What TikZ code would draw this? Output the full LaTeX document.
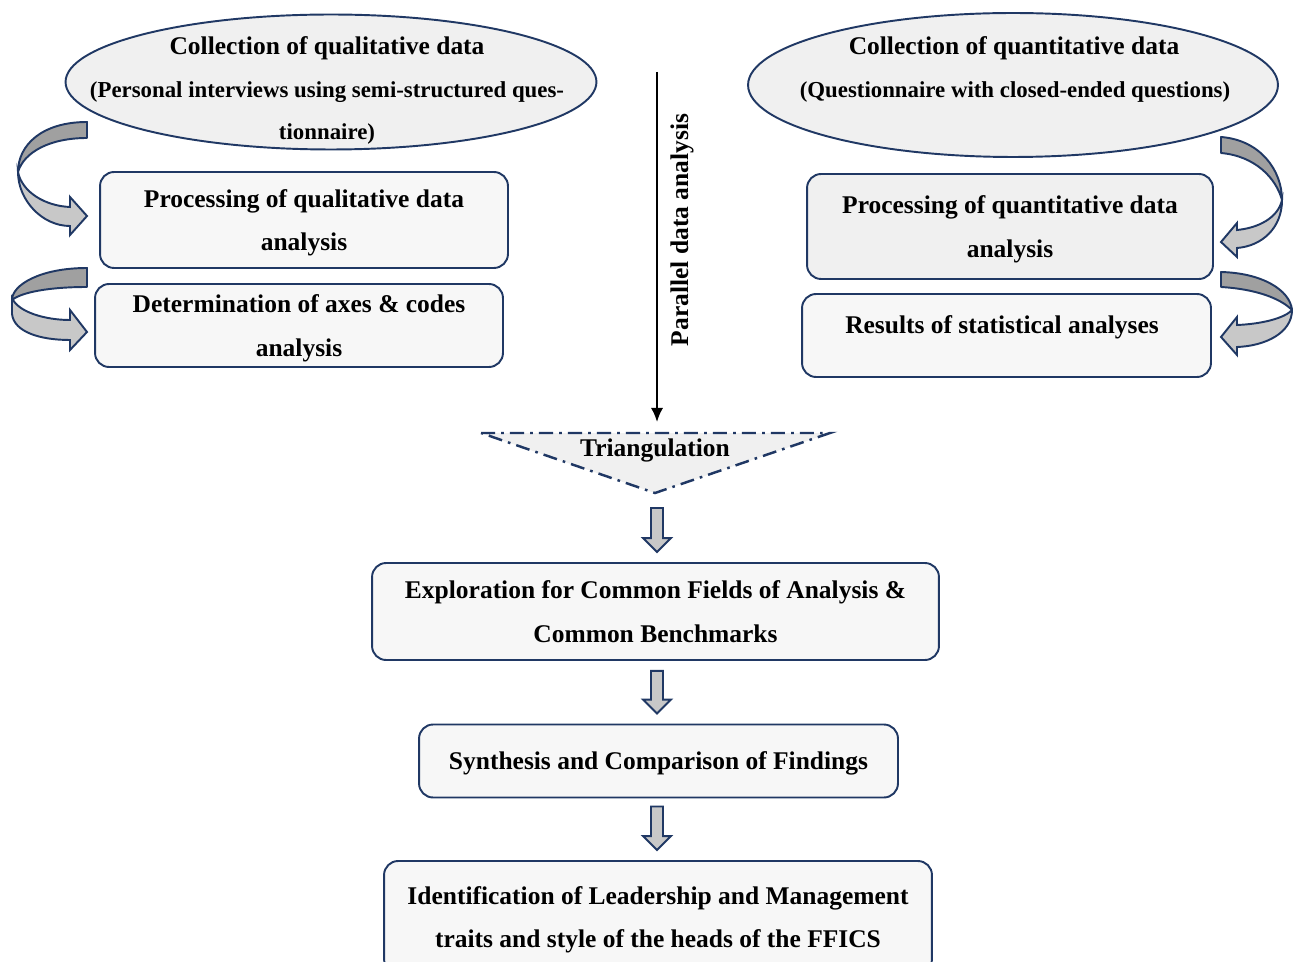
\documentclass[tikz,border=0pt]{standalone}
\usepackage{fontspec}
\setmainfont{Liberation Serif}
\usetikzlibrary{calc,shapes.geometric,arrows.meta}

\definecolor{navy}{RGB}{32,56,100}
\definecolor{ellfill}{RGB}{240,240,240}
\definecolor{boxfill}{RGB}{247,247,247}
\definecolor{bandback}{RGB}{160,160,160}
\definecolor{bandfront}{RGB}{200,200,200}

% hollow down arrow from #1 to #2
\newcommand\downblock[2]{%
  \draw[blockarr] ($(#1)+(-6,0)$) -- ($(#2)+(-6,-14)$) -- ($(#2)+(-14,-14)$) -- (#2)
    -- ($(#2)+(14,-14)$) -- ($(#2)+(6,-14)$) -- ($(#1)+(6,0)$) -- cycle;}

\begin{document}
\begin{tikzpicture}[x=0.02cm,y=-0.02cm,
    ell/.style={ellipse,draw=navy,line width=1.1pt,fill=ellfill,inner sep=0pt},
    box/.style={rectangle,rounded corners=8pt,draw=navy,line width=1.1pt,fill=boxfill,
      align=center,inner sep=0pt,text depth=0pt,font=\bfseries\fontsize{14.5}{24.7}\selectfont},
    txt/.style={font=\bfseries\fontsize{14.5}{24.7}\selectfont,align=center,inner sep=0pt},
    small/.style={font=\bfseries\fontsize{13}{23.8}\selectfont,align=center,inner sep=0pt},
    link/.style={line width=1.2pt,-{Latex[length=8pt,width=7pt]}},
    blockarr/.style={draw=navy,line width=1.1pt,fill=bandfront,line join=miter},
    back/.style={draw=navy,line width=1.1pt,fill=bandback,line join=round},
    front/.style={draw=navy,line width=1.1pt,fill=bandfront,line join=miter},
    tristyle/.style={draw=navy,line width=1.4pt,fill=ellfill,
      dash pattern=on 8pt off 3.5pt on 1.5pt off 3.5pt}]
  \useasboundingbox (0,0) rectangle (1293,962);

  % qualitative side
  \node[ell,minimum width=10.62cm,minimum height=2.7cm] (qlcoll) at (331,82) {};
  \node[txt] (qlcolltitle) at (327,48) {Collection of qualitative data};
  \node[small] (qlcollsub) at (327,113) {(Personal interviews using semi-structured ques-\\tionnaire)};
  \node[box,minimum width=8.16cm,minimum height=1.92cm] (qlproc) at (304,220)
    {Processing of qualitative data\\analysis};
  \node[box,minimum width=8.16cm,minimum height=1.66cm] (qlcode) at (299,325.5)
    {Determination of axes \& codes\\analysis};

  % quantitative side
  \node[ell,minimum width=10.6cm,minimum height=2.88cm] (qncoll) at (1013,85) {};
  \node[txt] (qncolltitle) at (1014,48) {Collection of quantitative data};
  \node[small] (qncollsub) at (1015,92) {(Questionnaire with closed-ended questions)};
  \node[box,fill=ellfill,minimum width=8.12cm,minimum height=2.1cm] (qnproc) at (1010,226.5)
    {Processing of quantitative data\\analysis};
  \node[box,minimum width=8.18cm,minimum height=1.66cm] (qnres) at (1006.5,335.5) {};
  \node[txt] (qnrestxt) at (1002,327) {Results of statistical analyses};

  % parallel analysis
  \coordinate (ptop) at (657,72);
  \coordinate (pbot) at (657,422);
  \draw[link] (ptop) -- (pbot);
  \node[txt,rotate=90] (partxt) at (682,230) {Parallel data analysis};

  % triangulation
  \coordinate (tri) at (655,493);
  \draw[tristyle] (481,433) -- (830,433) -- (tri) -- cycle;
  \node[txt] (tritxt) at (655,450) {Triangulation};

  % lower chain
  \node[box,minimum width=11.34cm,minimum height=1.94cm] (explore) at (655.5,611.5)
    {Exploration for Common Fields of Analysis \&\\Common Benchmarks};
  \node[box,minimum width=9.58cm,minimum height=1.46cm] (synth) at (658.5,761)
    {Synthesis and Comparison of Findings};
  \node[box,minimum width=10.96cm,minimum height=2.24cm] (ident) at (658,917)
    {Identification of Leadership and Management\\traits and style of the heads of the FFICS};

  \coordinate (a1) at ($(tri)+(2,15)$);
  \coordinate (e1) at ($(explore.north)+(1.5,-10)$);
  \coordinate (a2) at ($(explore.south)+(1.5,10)$);
  \coordinate (e2) at ($(synth.north)+(-1.5,-10)$);
  \coordinate (a3) at ($(synth.south)+(-1.5,8)$);
  \coordinate (e3) at ($(ident.north)+(-1,-10)$);
  \downblock{a1}{e1}
  \downblock{a2}{e2}
  \downblock{a3}{e3}

  % curled arrows, left
  \draw[back] (87,122) .. controls (42,122) and (18,145) .. (18,172)
    .. controls (24,152) and (50,138) .. (87,138) -- cycle;
  \draw[front] (18,172) .. controls (18,200) and (42,226) .. (70,226) -- (70,235) -- (87,216)
    -- (70,197) -- (70,207) .. controls (45,206) and (22,192) .. (18,172) -- cycle;
  \draw[back] (87,268) .. controls (40,268) and (12,285) .. (12,300)
    .. controls (22,292) and (50,287) .. (87,287) -- cycle;
  \draw[front] (12,298) -- (12,314) .. controls (14,332) and (40,340) .. (70,340) -- (70,350)
    -- (87,332) -- (70,310) -- (70,320) .. controls (45,320) and (18,312) .. (12,298) -- cycle;

  % curled arrows, right
  \draw[back] (1221,137) .. controls (1260,140) and (1282,170) .. (1282,200)
    .. controls (1276,178) and (1255,156) .. (1221,153) -- cycle;
  \draw[front] (1282,200) .. controls (1282,228) and (1262,246) .. (1237,248) -- (1237,257)
    -- (1221,242) -- (1237,223) -- (1237,230) .. controls (1258,228) and (1278,218) .. (1282,200) -- cycle;
  \draw[back] (1221,272) .. controls (1262,273) and (1290,290) .. (1292,310)
    .. controls (1280,298) and (1255,289) .. (1221,287) -- cycle;
  \draw[front] (1292,310) .. controls (1292,333) and (1265,346) .. (1237,347) -- (1237,355)
    -- (1221,337) -- (1237,317) -- (1237,325) .. controls (1262,324) and (1285,318) .. (1292,310) -- cycle;
\end{tikzpicture}
\end{document}
